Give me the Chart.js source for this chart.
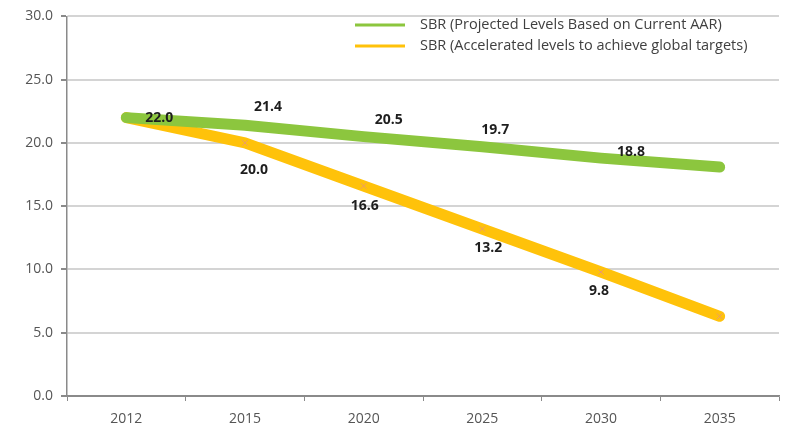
<!DOCTYPE html>
<html>
<head>
<meta charset="utf-8">
<script src="https://cdn.jsdelivr.net/npm/chart.js@4/dist/chart.umd.min.js"></script>
<style>
  html, body { margin: 0; padding: 0; background: #ffffff; }
  #wrap { width: 788px; height: 432px; position: relative; }
</style>
</head>
<body>
<div id="wrap"><canvas id="c" width="788" height="432"></canvas></div>
<script>
// Years on the horizontal axis
const years = ['2012', '2015', '2020', '2025', '2030', '2035'];

// Stillbirth rate per 1,000 births
const sbrProjected = [22.0, 21.4, 20.5, 19.7, 18.8, 18.1];
const sbrAccelerated = [22.0, 20.0, 16.6, 13.2, 9.8, 6.3];

const seriesNames = [
  'SBR (Projected Levels Based on Current AAR)',
  'SBR (Accelerated levels to achieve global targets)'
];

// Value-axis ticks
const yTicks = [0, 5, 10, 15, 20, 25, 30];

const GREEN = '#8cc63e';
const GOLD = '#ffc20a';
const AXIS = '#8a8a8a';
const FONT = '"Open Sans", "Liberation Sans", sans-serif';

// Writes each point's value beside it, offsets given per series and point
const valueLabels = {
  id: 'valueLabels',
  afterDatasetsDraw(chart, args, opts) {
    const ctx = chart.ctx;
    ctx.save();
    ctx.font = 'bold 14px ' + FONT;
    ctx.fillStyle = '#1e1e1e';
    ctx.textAlign = 'center';
    ctx.textBaseline = 'middle';
    chart.data.datasets.forEach((ds, di) => {
      const offs = opts.offsets[di];
      const meta = chart.getDatasetMeta(di);
      meta.data.forEach((pt, i) => {
        const o = offs[i];
        if (!o) return;
        ctx.fillText(ds.data[i].toFixed(1), pt.x + o[0], pt.y + o[1]);
      });
    });
    ctx.restore();
  }
};

// Legend block drawn inside the top-right of the plot
const insetLegend = {
  id: 'insetLegend',
  afterDraw(chart, args, opts) {
    const ctx = chart.ctx;
    ctx.save();
    ctx.font = '14.5px ' + FONT;
    ctx.textBaseline = 'middle';
    ctx.textAlign = 'left';
    chart.data.datasets.forEach((ds, i) => {
      const y = opts.top + i * opts.rowGap;
      ctx.strokeStyle = ds.borderColor;
      ctx.lineWidth = 3;
      ctx.lineCap = 'butt';
      ctx.beginPath();
      ctx.moveTo(opts.left, y);
      ctx.lineTo(opts.left + opts.sample, y);
      ctx.stroke();
      ctx.fillStyle = '#404040';
      ctx.fillText(ds.label, opts.left + opts.sample + 15, y);
    });
    ctx.restore();
  }
};

new Chart(document.getElementById('c'), {
  type: 'line',
  data: {
    labels: years,
    datasets: [
      {
        label: seriesNames[0],
        data: sbrProjected,
        borderColor: GREEN,
        backgroundColor: GREEN,
        borderWidth: 11,
        borderCapStyle: 'round',
        borderJoinStyle: 'round',
        pointRadius: 0,
        tension: 0
      },
      {
        label: seriesNames[1],
        data: sbrAccelerated,
        borderColor: GOLD,
        backgroundColor: GOLD,
        borderWidth: 11,
        borderCapStyle: 'round',
        borderJoinStyle: 'round',
        pointStyle: 'crossRot',
        pointRadius: 4,
        pointBorderWidth: 1,
        pointBorderColor: 'rgba(232,150,120,0.85)',
        tension: 0
      }
    ]
  },
  options: {
    responsive: false,
    animation: false,
    layout: { padding: { top: 16, right: 9, left: 0, bottom: 0 } },
    plugins: {
      legend: { display: false },
      tooltip: { enabled: false },
      valueLabels: {
        offsets: [
          [[33, 0], [23, -18], [25, -17], [13, -17], [30, -6], null],
          [null, [9, 27], [1, 20], [6, 19], [-2, 19], null]
        ]
      },
      insetLegend: { left: 355, top: 25, rowGap: 21, sample: 50 }
    },
    scales: {
      x: {
        offset: true,
        grid: {
          display: true,
          drawOnChartArea: false,
          offset: true,
          tickLength: 5,
          tickColor: AXIS,
          tickWidth: 1
        },
        border: { display: true, color: AXIS, width: 1.5 },
        ticks: { color: '#555555', font: { family: FONT, size: 14 }, padding: 10 },
        afterFit(scale) { scale.height = 36; }
      },
      y: {
        min: 0,
        max: 30,
        afterBuildTicks(scale) { scale.ticks = yTicks.map(v => ({ value: v })); },
        grid: {
          color: (c) => c.tick && c.tick.value === 0 ? AXIS : '#d4d4d4',
          lineWidth: 2,
          tickLength: 6,
          tickColor: AXIS
        },
        border: { display: true, color: AXIS, width: 1.5 },
        ticks: {
          color: '#555555',
          font: { family: FONT, size: 14 },
          padding: 8,
          callback: (v) => Number(v).toFixed(1)
        },
        afterFit(scale) { scale.width = 67; }
      }
    }
  },
  plugins: [valueLabels, insetLegend]
});
</script>
</body>
</html>
